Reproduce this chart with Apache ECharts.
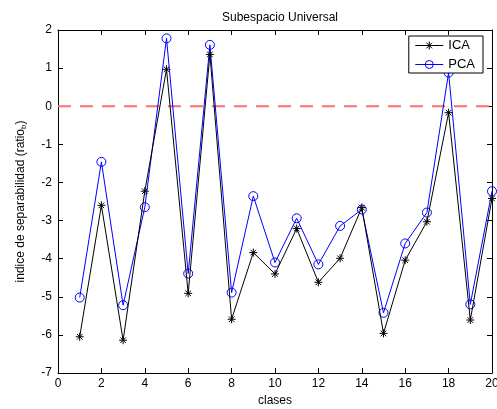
<!DOCTYPE html>
<html><head><meta charset="utf-8">
<script src="https://cdn.jsdelivr.net/npm/echarts@6/dist/echarts.min.js"></script>
<style>html,body{margin:0;padding:0;background:#fff}#c{width:497px;height:409px}</style>
</head><body><div id="c"></div>
<script>
const classes = [1,2,3,4,5,6,7,8,9,10,11,12,13,14,15,16,17,18,19,20];
const icaValues = [-6.05,-2.60,-6.14,-2.23,0.97,-4.91,1.36,-5.59,-3.84,-4.40,-3.21,-4.62,-3.99,-2.66,-5.96,-4.04,-3.03,-0.17,-5.61,-2.42];
const pcaValues = [-5.02,-1.46,-5.22,-2.65,1.78,-4.39,1.61,-4.89,-2.36,-4.10,-2.94,-4.15,-3.14,-2.71,-5.42,-3.60,-2.79,0.88,-5.20,-2.23];
const xTicks = [0,2,4,6,8,10,12,14,16,18,20];
const yTicks = [-7,-6,-5,-4,-3,-2,-1,0,1,2];
const refLine = [[0,0],[20,0]];

const font = 'Liberation Sans, Arial, sans-serif';
const star = 'path://M5,0L5,10M0,5L10,5M1.5,1.5L8.5,8.5M8.5,1.5L1.5,8.5';
const ch = echarts.init(document.getElementById('c'));
const axBase = {
  type:'value', axisLine:{show:true,onZero:false,lineStyle:{color:'#000',width:1}},
  axisTick:{show:true,inside:true,length:5,lineStyle:{color:'#000'}},
  splitLine:{show:false}
};
ch.setOption({
  animation:false,
  backgroundColor:'#fff',
  title:{text:'Subespacio Universal',left:275,top:7,textAlign:'center',
    textStyle:{fontFamily:font,fontSize:12,fontWeight:'normal',color:'#000'}},
  grid:{left:58,right:5,top:30,bottom:36,outerBoundsMode:'none',containLabel:false},
  legend:{right:14,top:36,orient:'vertical',itemWidth:28,itemHeight:10,itemGap:6,
    padding:[3,8,2,6],borderColor:'#000',borderWidth:1,backgroundColor:'#fff',
    lineStyle:{width:1},itemStyle:{borderWidth:1},
    textStyle:{fontFamily:font,fontSize:13,color:'#000'},
    data:['ICA','PCA']},
  xAxis:[
    Object.assign({},axBase,{min:0,max:20,interval:2,position:'bottom',
      name:'clases',nameLocation:'middle',nameGap:21,
      nameTextStyle:{fontFamily:font,fontSize:12,color:'#000'},
      axisLabel:{fontFamily:font,fontSize:12,color:'#000',margin:5,
        formatter:v=>xTicks.includes(v)?String(v):''}}),
    Object.assign({},axBase,{min:0,max:20,interval:2,position:'top',axisLabel:{show:false}})
  ],
  yAxis:[
    Object.assign({},axBase,{min:-7,max:2,interval:1,position:'left',
      name:'indice de separabilidad (ratio{sub|b})',nameLocation:'middle',nameGap:30,
      nameTextStyle:{fontFamily:font,fontSize:12,color:'#000',
        rich:{sub:{fontFamily:font,fontSize:8,color:'#000',verticalAlign:'bottom',padding:[6,0,0,0]}}},
      axisLabel:{fontFamily:font,fontSize:12,color:'#000',margin:6,
        formatter:v=>yTicks.includes(v)?String(v):''}}),
    Object.assign({},axBase,{min:-7,max:2,interval:1,position:'right',axisLabel:{show:false}})
  ],
  series:[
    {name:'zero',type:'line',data:refLine,symbol:'none',silent:true,
      lineStyle:{color:'#ff6e6e',width:2,type:[13,9]},z:1},
    {name:'PCA',type:'line',data:classes.map((c,i)=>[c,pcaValues[i]]),
      symbol:'circle',symbolSize:9,
      lineStyle:{color:'#0000ff',width:1},
      itemStyle:{color:'transparent',borderColor:'#0000ff',borderWidth:1},z:2},
    {name:'ICA',type:'line',data:classes.map((c,i)=>[c,icaValues[i]]),
      symbol:star,symbolSize:8,
      lineStyle:{color:'#000',width:1},
      itemStyle:{color:'none',borderColor:'#000',borderWidth:1},z:3}
  ]
});
</script></body></html>
